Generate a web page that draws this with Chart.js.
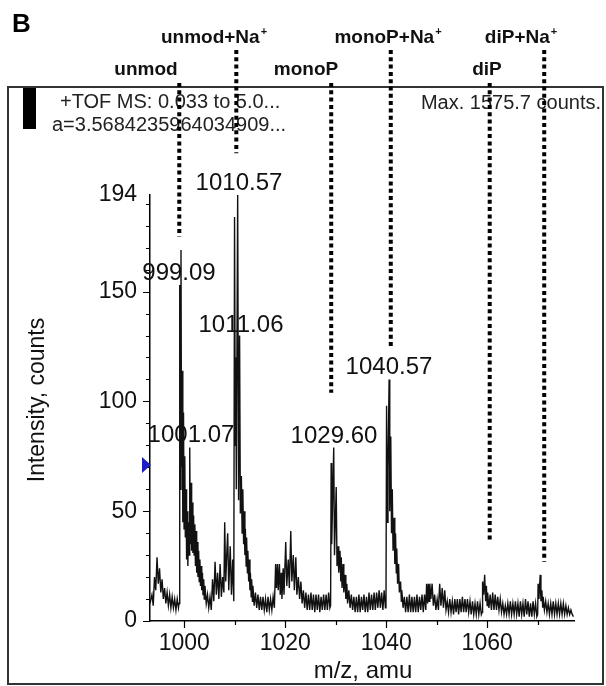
<!DOCTYPE html>
<html>
<head>
<meta charset="utf-8">
<script src="https://cdn.jsdelivr.net/npm/chart.js@4/dist/chart.umd.min.js"></script>
<style>
body { margin: 0; background: #fff; }
canvas { display: block; }
</style>
</head>
<body>
<canvas id="msChart" width="606" height="686"></canvas>
<script>
// m/z, counts
const spectrum = [
  [993.2, 8], [993.59, 12], [993.84, 7], [994.09, 20], [994.34, 14], [994.59, 29], [994.84, 17],
  [995.09, 24], [995.34, 13], [995.59, 19], [995.84, 10], [996.09, 15], [996.34, 8], [996.59, 13],
  [996.84, 7], [997.09, 12], [997.34, 6], [997.59, 11], [997.84, 6], [998.09, 10], [998.34, 5],
  [998.59, 10], [998.84, 6], [998.95, 8],
  [999.09, 153], [999.2, 60], [999.34, 169], [999.45, 70], [999.59, 114], [999.7, 45], [999.84, 95],
  [999.95, 42], [1000.09, 75], [1000.2, 38], [1000.34, 60], [1000.45, 28], [1000.59, 50], [1000.7, 25],
  [1000.84, 45], [1000.95, 30], [1001.07, 79], [1001.2, 35], [1001.34, 63], [1001.45, 32], [1001.59, 54],
  [1001.7, 31], [1001.84, 48], [1001.95, 30], [1002.09, 44], [1002.2, 25], [1002.34, 41], [1002.45, 22],
  [1002.59, 36], [1002.7, 20], [1002.84, 32], [1002.95, 18], [1003.09, 28], [1003.2, 16], [1003.34, 25],
  [1003.45, 14], [1003.59, 22], [1003.7, 12], [1003.84, 19], [1003.95, 10], [1004.09, 16], [1004.34, 8],
  [1004.59, 12], [1004.84, 6], [1005.09, 11], [1005.34, 5], [1005.59, 19], [1005.84, 9], [1006.09, 27],
  [1006.34, 12], [1006.59, 22], [1006.84, 10], [1007.09, 26], [1007.34, 11], [1007.59, 20], [1007.84, 13],
  [1008.0, 45], [1008.2, 18], [1008.4, 30], [1008.59, 40], [1008.8, 14], [1009.09, 34], [1009.34, 12],
  [1009.59, 28], [1009.8, 9],
  [1009.95, 184], [1010.1, 80], [1010.2, 120], [1010.3, 60], [1010.57, 194], [1010.75, 55], [1010.95, 130],
  [1011.1, 49], [1011.3, 66], [1011.45, 40], [1011.59, 60], [1011.75, 35], [1011.84, 50], [1012.0, 30],
  [1012.09, 42], [1012.25, 25], [1012.34, 38], [1012.5, 22], [1012.59, 32], [1012.75, 18], [1012.84, 28],
  [1013.0, 14], [1013.09, 22], [1013.25, 11], [1013.34, 19], [1013.5, 9], [1013.59, 16], [1013.84, 7],
  [1014.09, 13], [1014.34, 6], [1014.59, 12], [1014.84, 5], [1015.09, 11], [1015.34, 5], [1015.59, 11],
  [1015.84, 5], [1016.09, 10], [1016.34, 4], [1016.59, 11], [1016.84, 5], [1017.09, 10], [1017.34, 5],
  [1017.59, 11], [1017.84, 6],
  [1018.09, 26], [1018.25, 15], [1018.45, 26], [1018.6, 14], [1018.84, 26], [1019.0, 12], [1019.2, 22],
  [1019.34, 10], [1019.59, 24], [1019.75, 12], [1020.09, 36], [1020.3, 16], [1020.59, 28], [1020.8, 15],
  [1021.09, 41], [1021.3, 18], [1021.59, 30], [1021.8, 14], [1022.09, 29], [1022.3, 12], [1022.59, 20],
  [1022.84, 10], [1023.09, 18], [1023.34, 8], [1023.59, 14], [1023.84, 6], [1024.09, 13], [1024.34, 5],
  [1024.59, 12], [1024.84, 5], [1025.09, 13], [1025.34, 5], [1025.59, 12], [1025.84, 4], [1026.09, 12],
  [1026.34, 5], [1026.59, 12], [1026.84, 4], [1027.09, 11], [1027.34, 5], [1027.59, 12], [1027.84, 5],
  [1028.09, 12], [1028.34, 5], [1028.59, 13], [1028.84, 6], [1028.98, 7],
  [1029.09, 72], [1029.2, 35], [1029.34, 50], [1029.6, 79], [1029.75, 30], [1030.09, 61], [1030.25, 25],
  [1030.45, 34], [1030.6, 22], [1030.84, 32], [1031.0, 18], [1031.09, 29], [1031.25, 15], [1031.45, 26],
  [1031.6, 13], [1031.84, 21], [1032.0, 10], [1032.2, 17], [1032.34, 8], [1032.59, 14], [1032.84, 6],
  [1033.09, 12], [1033.34, 5], [1033.59, 11], [1033.84, 4], [1034.09, 11], [1034.34, 4], [1034.59, 12],
  [1034.84, 4], [1035.09, 11], [1035.34, 5], [1035.59, 12], [1035.84, 4], [1036.09, 11], [1036.34, 4],
  [1036.59, 13], [1036.84, 5], [1037.09, 12], [1037.34, 5], [1037.59, 13], [1037.84, 5], [1038.09, 13],
  [1038.34, 6], [1038.59, 14], [1038.84, 6], [1039.09, 13], [1039.34, 5], [1039.59, 14], [1039.84, 6],
  [1039.95, 7],
  [1040.07, 98], [1040.2, 45], [1040.35, 70], [1040.57, 110], [1040.7, 50], [1040.9, 84], [1041.05, 40],
  [1041.2, 60], [1041.35, 32], [1041.57, 47], [1041.7, 26], [1041.84, 40], [1042.0, 22], [1042.09, 33],
  [1042.25, 17], [1042.45, 26], [1042.6, 13], [1042.84, 18], [1043.0, 9], [1043.09, 14], [1043.34, 6],
  [1043.59, 11], [1043.84, 4], [1044.09, 11], [1044.34, 4], [1044.59, 12], [1044.84, 4], [1045.09, 11],
  [1045.34, 4], [1045.59, 11], [1045.84, 4], [1046.09, 12], [1046.34, 4], [1046.59, 11], [1046.84, 5],
  [1047.09, 12], [1047.34, 4], [1047.59, 12], [1047.84, 5],
  [1048.0, 17], [1048.2, 8], [1048.34, 17], [1048.5, 9], [1048.64, 17], [1048.84, 10], [1049.09, 17],
  [1049.34, 7], [1049.59, 12], [1049.84, 5], [1050.09, 10], [1050.34, 5], [1050.59, 17], [1050.84, 7],
  [1051.09, 15], [1051.34, 6], [1051.59, 14], [1051.84, 5], [1052.09, 9], [1052.34, 4], [1052.59, 10],
  [1052.84, 4], [1053.09, 9], [1053.34, 3], [1053.59, 10], [1053.84, 4], [1054.09, 10], [1054.34, 3],
  [1054.59, 10], [1054.84, 4], [1055.09, 11], [1055.34, 4], [1055.59, 10], [1055.84, 4], [1056.09, 10],
  [1056.34, 4], [1056.59, 9], [1056.84, 3], [1057.09, 9], [1057.34, 3], [1057.59, 8], [1057.84, 3],
  [1058.09, 9], [1058.34, 3], [1058.59, 8], [1058.84, 3], [1059.0, 4],
  [1059.09, 18], [1059.3, 12], [1059.5, 21], [1059.7, 9], [1059.84, 16], [1060.0, 7], [1060.09, 13],
  [1060.34, 6], [1060.59, 12], [1060.84, 5], [1061.09, 13], [1061.34, 5], [1061.59, 12], [1061.84, 5],
  [1062.09, 11], [1062.34, 5], [1062.59, 10], [1062.84, 4], [1063.09, 8], [1063.34, 3], [1063.59, 7],
  [1063.84, 3], [1064.09, 8], [1064.34, 3], [1064.59, 9], [1064.84, 3], [1065.09, 8], [1065.34, 3],
  [1065.59, 9], [1065.84, 3], [1066.09, 8], [1066.34, 2], [1066.59, 9], [1066.84, 3], [1067.09, 8],
  [1067.34, 2], [1067.59, 10], [1067.84, 3], [1068.09, 9], [1068.34, 2], [1068.59, 8], [1068.84, 2],
  [1069.09, 9], [1069.34, 3], [1069.59, 8], [1069.84, 2], [1070.0, 3],
  [1070.09, 17], [1070.25, 10], [1070.5, 21], [1070.65, 9], [1070.84, 14], [1071.0, 6], [1071.09, 11],
  [1071.34, 5], [1071.59, 9], [1071.84, 4], [1072.09, 8], [1072.34, 3], [1072.59, 8], [1072.84, 3],
  [1073.09, 9], [1073.34, 3], [1073.59, 8], [1073.84, 3], [1074.09, 8], [1074.34, 3], [1074.59, 8],
  [1074.84, 3], [1075.09, 8], [1075.34, 3], [1075.59, 7], [1075.84, 3], [1076.09, 6], [1076.34, 3],
  [1076.59, 5], [1076.84, 3], [1077.09, 2]
];

const yTickLabels = [0, 50, 100, 150, 194];
const xTickLabels = [1000, 1020, 1040, 1060];

// ion markers: name, m/z of dotted line, intensity where the dotted line stops
const ionNames = ['unmod', 'unmod+Na', 'monoP', 'monoP+Na', 'diP', 'diP+Na'];
const ionMz = [999.0, 1010.3, 1029.1, 1040.9, 1060.5, 1071.3];
const ionLineEnd = [175, 213, 104, 125, 37, 27];

const peakLabels = ['1010.57', '999.09', '1011.06', '1040.57', '1029.60', '1001.07'];

const FONT = '"Liberation Sans", Arial, sans-serif';

// layout of the annotations (pixels)
const ionLabelPos = [[146, 70], [214, 38], [306, 70], [388, 38], [487, 70], [521, 38]];
const ionLineTop = [83, 50, 83, 50, 83, 50];
const peakLabelPos = [[239, 183], [179, 273], [241, 325], [389, 367], [334, 436], [191, 435]];

const decor = {
  id: 'decor',
  beforeDraw(chart) {
    const c = chart.ctx;
    c.save();
    c.fillStyle = '#fff';
    c.fillRect(0, 0, chart.width, chart.height);
    c.restore();
  },
  afterDraw(chart) {
    const c = chart.ctx;
    const xs = chart.scales.x, ys = chart.scales.y;
    const area = chart.chartArea;
    c.save();

    // frame
    c.strokeStyle = '#333';
    c.lineWidth = 2;
    c.strokeRect(8, 87, 595, 597);

    // tick marks
    c.strokeStyle = '#000';
    c.lineWidth = 1.2;
    c.beginPath();
    for (let v = 0; v <= 190; v += 10) {
      const y = Math.round(ys.getPixelForValue(v)) + 0.5;
      const len = v % 50 === 0 ? 7 : 4;
      c.moveTo(area.left - len, y);
      c.lineTo(area.left, y);
    }
    for (let v = 1000; v <= 1070; v += 10) {
      const x = Math.round(xs.getPixelForValue(v)) + 0.5;
      const len = v % 20 === 0 ? 7 : 4;
      c.moveTo(x, area.bottom);
      c.lineTo(x, area.bottom + len);
    }
    c.stroke();

    // black marker block and header text
    c.fillStyle = '#000';
    c.fillRect(23, 88, 13, 41);
    c.fillStyle = '#222';
    c.font = '20px ' + FONT;
    c.textBaseline = 'middle';
    c.textAlign = 'left';
    c.fillText('+TOF MS: 0.033 to 5.0...', 60, 102);
    c.fillText('a=3.5684235964034909...', 52, 125);
    c.textAlign = 'right';
    c.fillText('Max. 1575.7 counts.', 601, 103);

    // blue threshold triangle
    c.fillStyle = '#1c1cc8';
    c.beginPath();
    c.moveTo(area.left - 8, 457);
    c.lineTo(area.left - 8, 473);
    c.lineTo(area.left + 1, 465);
    c.closePath();
    c.fill();

    // peak labels
    c.fillStyle = '#111';
    c.font = '24px ' + FONT;
    c.textAlign = 'center';
    peakLabels.forEach((t, i) => c.fillText(t, peakLabelPos[i][0], peakLabelPos[i][1]));

    // axis titles
    c.font = '24px ' + FONT;
    c.fillText('m/z, amu', 363, 671);
    c.save();
    c.translate(38, 400);
    c.rotate(-Math.PI / 2);
    c.font = '23px ' + FONT;
    c.fillText('Intensity, counts', 0, 0);
    c.restore();

    // panel letter
    c.fillStyle = '#000';
    c.font = 'bold 26px ' + FONT;
    c.textAlign = 'left';
    c.fillText('B', 12, 25);

    // ion labels (with superscript +)
    c.fillStyle = '#111';
    ionNames.forEach((name, i) => {
      const [cx, cy] = ionLabelPos[i];
      const sodium = name.endsWith('+Na');
      c.font = 'bold 19px ' + FONT;
      const w = c.measureText(name).width;
      c.font = 'bold 11px ' + FONT;
      const ws = sodium ? c.measureText('+').width + 1 : 0;
      const x0 = cx - (w + ws) / 2;
      c.textAlign = 'left';
      c.font = 'bold 19px ' + FONT;
      c.fillText(name, x0, cy);
      if (sodium) {
        c.font = 'bold 11px ' + FONT;
        c.fillText('+', x0 + w + 1, cy - 6);
      }
    });

    // dotted ion lines
    c.strokeStyle = '#000';
    c.lineWidth = 4;
    c.setLineDash([4, 3.3]);
    ionMz.forEach((mz, i) => {
      const x = xs.getPixelForValue(mz);
      c.beginPath();
      c.moveTo(x, ionLineTop[i]);
      c.lineTo(x, ys.getPixelForValue(ionLineEnd[i]));
      c.stroke();
    });
    c.restore();
  }
};

Chart.defaults.font.family = FONT;
Chart.defaults.color = '#111';

new Chart(document.getElementById('msChart'), {
  type: 'line',
  data: {
    datasets: [{
      data: spectrum.map(p => ({ x: p[0], y: p[1] })),
      borderColor: '#111',
      borderWidth: 1.4,
      pointRadius: 0,
      tension: 0,
      fill: false
    }]
  },
  options: {
    responsive: false,
    animation: false,
    devicePixelRatio: 1,
    layout: { padding: { left: 0, right: 32, top: 195, bottom: 0 } },
    plugins: { legend: { display: false }, tooltip: { enabled: false } },
    scales: {
      x: {
        type: 'linear',
        min: 993.2,
        max: 1077.2,
        grid: { display: false },
        border: { display: true, color: '#000', width: 1.5 },
        afterBuildTicks: s => { s.ticks = xTickLabels.map(v => ({ value: v })); },
        afterFit: s => { s.height = 65; },
        ticks: { font: { size: 23 }, padding: 1, maxRotation: 0, autoSkip: false, callback: v => String(v) }
      },
      y: {
        min: 0,
        max: 194,
        grid: { display: false },
        border: { display: true, color: '#000', width: 1.5 },
        afterBuildTicks: s => { s.ticks = yTickLabels.map(v => ({ value: v })); },
        afterFit: s => { s.width = 150; },
        ticks: { font: { size: 23 }, padding: 5, autoSkip: false, callback: v => String(v) }
      }
    }
  },
  plugins: [decor]
});
</script>
</body>
</html>
